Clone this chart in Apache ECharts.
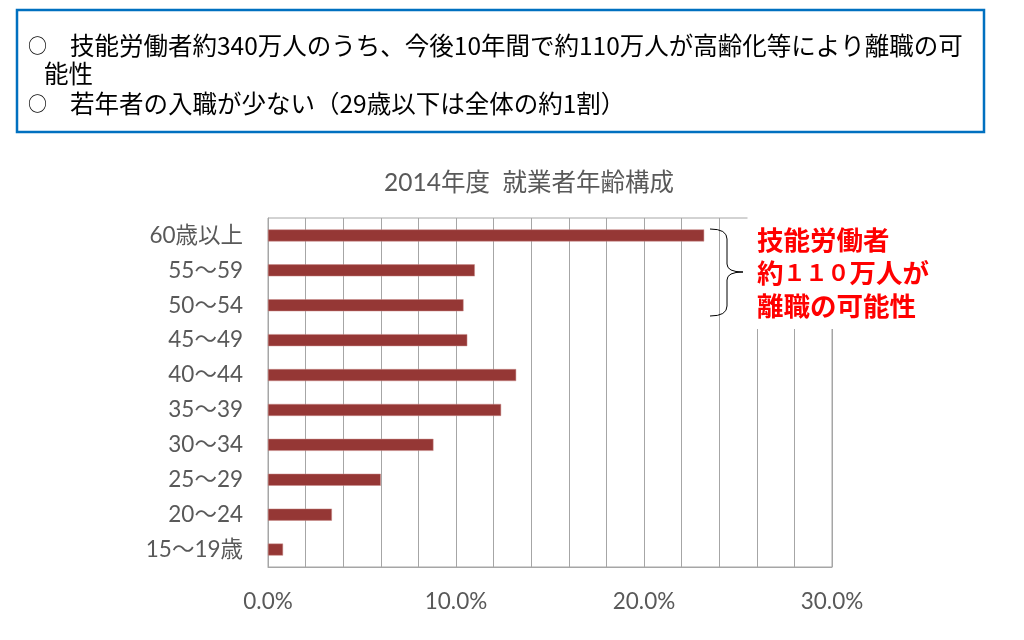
<!DOCTYPE html>
<html>
<head>
<meta charset="utf-8">
<script src="https://cdn.jsdelivr.net/npm/echarts@6/dist/echarts.min.js"></script>
<style>
html,body{margin:0;padding:0;background:#fff;}
#chart{width:1024px;height:640px;}
</style>
</head>
<body>
<div id="chart"></div>
<script>
// Data
const categories = ['60歳以上', '55～59', '50～54', '45～49', '40～44', '35～39', '30～34', '25～29', '20～24', '15～19歳'];
const shares = [23.2, 11.0, 10.4, 10.6, 13.2, 12.4, 8.8, 6.0, 3.4, 0.8];
const chartTitle = '2014年度  就業者年齢構成';
const bullet = '○';
const headLine1 = '技能労働者約340万人のうち、今後10年間で約110万人が高齢化等により離職の可';
const headLine2 = '能性';
const headLine3 = '若年者の入職が少ない（29歳以下は全体の約1割）';
const noteLine1 = '技能労働者';
const noteLine2 = ['約', '１１０', '万人が'];
const noteLine3 = '離職の可能性';

const latin = 'Lato, "Noto Sans CJK JP", sans-serif';
const jp = '"Noto Sans CJK JP", sans-serif';
const grey = '#595959';
const gridGrey = '#a6a6a6';

function txt(x, y, text, size, color, weight, family, z) {
  return {type: 'text', z: z, x: x, y: y,
    style: {text: text, fill: color, fontSize: size, fontWeight: weight, fontFamily: family,
            verticalAlign: 'middle', textAlign: 'left'}};
}
function seg(x1, y1, x2, y2) {
  return {type: 'line', z: 61, shape: {x1: x1, y1: y1, x2: x2, y2: y2},
    style: {stroke: '#000', lineWidth: 1}};
}
function curve(x1, y1, cx, cy, x2, y2) {
  return {type: 'bezierCurve', z: 61, shape: {x1: x1, y1: y1, cpx1: cx, cpy1: cy, x2: x2, y2: y2},
    style: {stroke: '#000', lineWidth: 1, fill: 'none'}};
}
const red = '#ff0000';
const noteStyle = {fill: red, fontSize: 26.5, fontWeight: 'bold', fontFamily: jp};

const chart = echarts.init(document.getElementById('chart'), null, {renderer: 'canvas'});
chart.setOption({
  backgroundColor: '#ffffff',
  animation: false,
  title: {
    text: chartTitle,
    left: 524,
    top: 166,
    textAlign: 'center',
    textStyle: {color: grey, fontSize: 24.5, fontWeight: 'normal', fontFamily: latin}
  },
  grid: {
    left: 268, right: 192, top: 218, bottom: 73,
    show: true, borderColor: gridGrey, borderWidth: 1, backgroundColor: 'transparent'
  },
  xAxis: {
    type: 'value', min: 0, max: 30, interval: 2,
    axisLine: {show: true, lineStyle: {color: gridGrey, width: 1}},
    axisTick: {show: false},
    splitLine: {show: true, lineStyle: {color: gridGrey, width: 1}},
    axisLabel: {
      color: grey, fontSize: 22.5, fontFamily: latin, margin: 23,
      formatter: v => (v % 10 === 0 ? v.toFixed(1) + '%' : '')
    }
  },
  yAxis: {
    type: 'category', inverse: true, data: categories,
    axisLine: {show: true, lineStyle: {color: gridGrey, width: 1}},
    axisTick: {show: false},
    splitLine: {show: false},
    axisLabel: {color: grey, fontSize: 22.5, fontFamily: latin, margin: 25}
  },
  series: [{
    type: 'bar',
    data: shares,
    barWidth: 12,
    itemStyle: {color: '#953735', borderColor: '#c98a88', borderWidth: 0.5},
    z: 2
  }],
  graphic: [
    {type: 'rect', z: 50, shape: {x: 17, y: 10, width: 967, height: 122},
     style: {fill: 'none', stroke: '#0070C0', lineWidth: 2.5}},
    txt(28, 46, bullet, 19, '#000', 'normal', jp, 50),
    txt(70, 46, headLine1, 24.5, '#000', 'normal', jp, 50),
    txt(44, 74, headLine2, 24.5, '#000', 'normal', jp, 50),
    txt(28, 104, bullet, 19, '#000', 'normal', jp, 50),
    txt(70, 104, headLine3, 24.5, '#000', 'normal', jp, 50),
    {type: 'rect', z: 60, shape: {x: 747.5, y: 205, width: 110, height: 124},
     style: {fill: '#ffffff', stroke: 'none'}},
    curve(710, 229, 727, 229, 727, 239),
    seg(727, 239, 727, 264),
    curve(727, 264, 727, 272, 743, 272),
    curve(743, 272, 727, 272, 727, 280),
    seg(727, 280, 727, 306),
    curve(727, 306, 727, 316, 710, 316),
    txt(757, 240, noteLine1, 26.5, red, 'bold', jp, 62),
    {type: 'text', z: 62, x: 757, y: 273,
     style: {
       text: '{a|' + noteLine2[0] + '}{d|' + noteLine2[1] + '}{a|' + noteLine2[2] + '}',
       verticalAlign: 'middle', textAlign: 'left',
       rich: {
         a: noteStyle,
         d: {fill: red, fontSize: 22, fontWeight: 'bold', fontFamily: jp}
       }
     }},
    txt(757, 306, noteLine3, 26.5, red, 'bold', jp, 62)
  ]
});
</script>
</body>
</html>
